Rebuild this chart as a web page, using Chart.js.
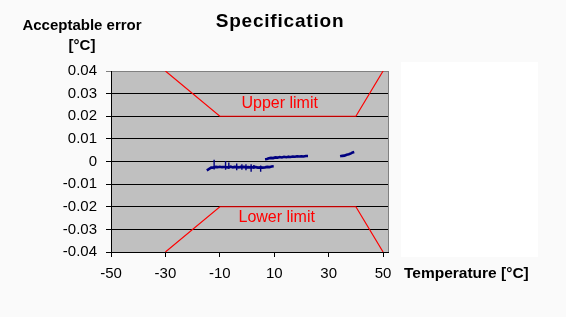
<!DOCTYPE html>
<html>
<head>
<meta charset="utf-8">
<title>Specification</title>
<script src="https://cdn.jsdelivr.net/npm/chart.js@4.4.1/dist/chart.umd.min.js"></script>
<style>
  html, body { margin: 0; padding: 0; background: #fafafa; }
  #chart { display: block; }
</style>
</head>
<body>
<canvas id="chart" width="566" height="317"></canvas>
<script>
'use strict';

// ── Data ───────────────────────────────────────────────────────────────────

var X_TICKS = [-50, -30, -10, 10, 30, 50];

// Specification envelope
var LIMIT_X = [-30, -10, 40, 50];
var UPPER_Y = [0.04, 0.02, 0.02, 0.04];
var LOWER_Y = [-0.04, -0.02, -0.02, -0.04];

// Measured error, first run
var RUN1_X = [-14.8, -14.2, -13.6, -13.2, -12.6, -12.1, -11.5, -10.8, -10.0, -9.2,
              -8.4, -7.9, -7.3, -6.7, -6.0, -5.2, -4.5, -3.8, -3.0, -2.4,
              -1.9, -1.2, -0.4, 0.4, 1.0, 1.5, 2.0, 2.5, 3.2, 4.0,
              5.0, 5.8, 6.6, 7.4, 8.2, 9.0, 9.8];
var RUN1_Y = [-0.0039, -0.0035, -0.0030, -0.0027, -0.0027, -0.0025, -0.0024, -0.0025, -0.0023, -0.0025,
              -0.0024, -0.0024, -0.0026, -0.0025, -0.0023, -0.0026, -0.0024, -0.0025, -0.0026, -0.0024,
              -0.0025, -0.0024, -0.0026, -0.0025, -0.0026, -0.0025, -0.0026, -0.0024, -0.0025, -0.0027,
              -0.0026, -0.0027, -0.0026, -0.0024, -0.0025, -0.0022, -0.0021];

// Single outlier readings during the first run (vertical spikes)
var SPIKE1_X      = [-12.1, -7.9, -6.7, -3.8, -1.9, -0.4, 1.5, 2.5, 5.0];
var SPIKE1_TOP    = [0.0008, 0.0002, -0.0004, -0.0009, -0.0012, -0.0012, -0.0012, -0.0015, -0.0018];
var SPIKE1_BOTTOM = [-0.0035, -0.0036, -0.0033, -0.0039, -0.0036, -0.0039, -0.0045, -0.0033, -0.0045];

// Second run
var RUN2_X = [6.6, 7.3, 8.0, 8.8, 9.6, 10.4, 11.2, 12.0, 12.8, 13.6, 14.4,
              15.2, 16.0, 16.8, 17.6, 18.4, 19.2, 20.0, 20.8, 21.6, 22.4];
var RUN2_Y = [0.0010, 0.0011, 0.0014, 0.0016, 0.0015, 0.0018, 0.0017, 0.0020, 0.0018, 0.0021, 0.0019,
              0.0021, 0.0020, 0.0022, 0.0021, 0.0023, 0.0022, 0.0023, 0.0022, 0.0024, 0.0024];

var SPIKE2_X      = [12.0, 15.2, 18.4];
var SPIKE2_TOP    = [0.0024, 0.0025, 0.0027];
var SPIKE2_BOTTOM = [0.0015, 0.0016, 0.0019];

// Third run
var RUN3_X = [34.2, 35.0, 35.8, 36.6, 37.4, 38.2, 38.8, 39.4];
var RUN3_Y = [0.0023, 0.0025, 0.0026, 0.0030, 0.0032, 0.0036, 0.0040, 0.0042];

// Labels placed in data space
var LIMIT_LABELS = [
  { text: 'Upper limit', x: 12,   y: 0.0235 },
  { text: 'Lower limit', x: 10.9, y: -0.0267 },
];

// ── Helpers ─────────────────────────────────────────────────────────────────

var FONT = '"Liberation Sans", Arial, sans-serif';
var NAVY = '#000080';
var RED  = '#ff0000';

function zip(xs, ys) {
  return xs.map(function (x, i) { return { x: x, y: ys[i] }; });
}

// vertical segments separated by gaps
function spikes(xs, tops, bottoms) {
  var out = [];
  xs.forEach(function (x, i) {
    out.push({ x: x, y: tops[i] }, { x: x, y: bottoms[i] }, { x: x, y: null });
  });
  return out;
}

function lineSet(label, data, color, width) {
  return {
    label: label,
    data: data,
    showLine: true,
    spanGaps: false,
    borderColor: color,
    backgroundColor: color,
    borderWidth: width,
    pointRadius: 0,
    tension: 0,
  };
}

// ── Decorations plugin ─────────────────────────────────────────────────────

var decorations = {
  id: 'decorations',
  beforeDraw: function (chart) {
    var ctx = chart.ctx;
    var a = chart.chartArea;
    ctx.save();
    ctx.fillStyle = '#fafafa';
    ctx.fillRect(0, 0, chart.width, chart.height);
    // white legend box left over on the right
    ctx.fillStyle = '#ffffff';
    ctx.fillRect(401, 62, 137, 195);
    // plot area
    ctx.fillStyle = '#c0c0c0';
    ctx.fillRect(a.left, a.top, a.right - a.left, a.bottom - a.top);
    ctx.restore();
  },
  afterDraw: function (chart) {
    var ctx = chart.ctx;
    var a = chart.chartArea;
    var xs = chart.scales.x;
    var ys = chart.scales.y;
    ctx.save();

    // plot area right border
    ctx.strokeStyle = '#808080';
    ctx.lineWidth = 1;
    ctx.beginPath();
    ctx.moveTo(Math.round(a.right) + 0.5, a.top);
    ctx.lineTo(Math.round(a.right) + 0.5, a.bottom);
    ctx.stroke();

    // limit labels
    ctx.fillStyle = RED;
    ctx.font = '16px ' + FONT;
    ctx.textAlign = 'center';
    ctx.textBaseline = 'alphabetic';
    LIMIT_LABELS.forEach(function (l) {
      ctx.fillText(l.text, xs.getPixelForValue(l.x), ys.getPixelForValue(l.y));
    });

    // title and axis titles
    ctx.fillStyle = '#000000';
    ctx.font = 'bold 19px ' + FONT;
    ctx.letterSpacing = '0.8px';
    ctx.fillText('Specification', 280, 27);
    ctx.letterSpacing = '0px';

    ctx.font = 'bold 15px ' + FONT;
    ctx.fillText('Acceptable error', 82, 30);
    ctx.fillText('[°C]', 82, 50);

    ctx.textAlign = 'left';
    ctx.font = 'bold 15.5px ' + FONT;
    ctx.fillText('Temperature [°C]', 404, 278);
    ctx.restore();
  },
};

// ── Chart ───────────────────────────────────────────────────────────────────

new Chart(document.getElementById('chart'), {
  type: 'scatter',
  data: {
    datasets: [
      lineSet('Upper limit', zip(LIMIT_X, UPPER_Y), RED, 1.2),
      lineSet('Lower limit', zip(LIMIT_X, LOWER_Y), RED, 1.2),
      lineSet('Run 1', zip(RUN1_X, RUN1_Y), NAVY, 2.6),
      lineSet('Run 1 spikes', spikes(SPIKE1_X, SPIKE1_TOP, SPIKE1_BOTTOM), NAVY, 1.4),
      lineSet('Run 2', zip(RUN2_X, RUN2_Y), NAVY, 2.6),
      lineSet('Run 2 spikes', spikes(SPIKE2_X, SPIKE2_TOP, SPIKE2_BOTTOM), NAVY, 1.2),
      lineSet('Run 3', zip(RUN3_X, RUN3_Y), NAVY, 2.6),
    ],
  },
  options: {
    responsive: false,
    animation: false,
    layout: { padding: { left: 0, top: 71, right: 178, bottom: 0 } },
    plugins: {
      legend: { display: false },
      tooltip: { enabled: false },
      title: { display: false },
    },
    scales: {
      x: {
        type: 'linear',
        min: -50,
        max: 51.8,
        afterBuildTicks: function (scale) {
          scale.ticks = X_TICKS.map(function (v) { return { value: v }; });
        },
        afterFit: function (scale) { scale.height = 65; },
        grid: {
          drawOnChartArea: false,
          drawTicks: true,
          tickLength: 5,
          color: '#000000',
        },
        border: { display: true, color: '#000000', width: 1 },
        ticks: {
          color: '#000000',
          padding: 8,
          maxRotation: 0,
          font: { family: FONT, size: 15 },
        },
      },
      y: {
        type: 'linear',
        min: -0.04,
        max: 0.04,
        afterFit: function (scale) { scale.width = 111; },
        grid: {
          drawOnChartArea: true,
          drawTicks: true,
          tickLength: 5,
          color: function (c) {
            return (c.tick && Math.abs(c.tick.value - 0.04) < 1e-9) ? '#808080' : '#000000';
          },
        },
        border: { display: true, color: '#000000', width: 1 },
        ticks: {
          stepSize: 0.01,
          color: '#000000',
          padding: 9,
          font: { family: FONT, size: 15 },
          callback: function (v) { return String(Number(v.toFixed(2))); },
        },
      },
    },
  },
  plugins: [decorations],
});
</script>
</body>
</html>
